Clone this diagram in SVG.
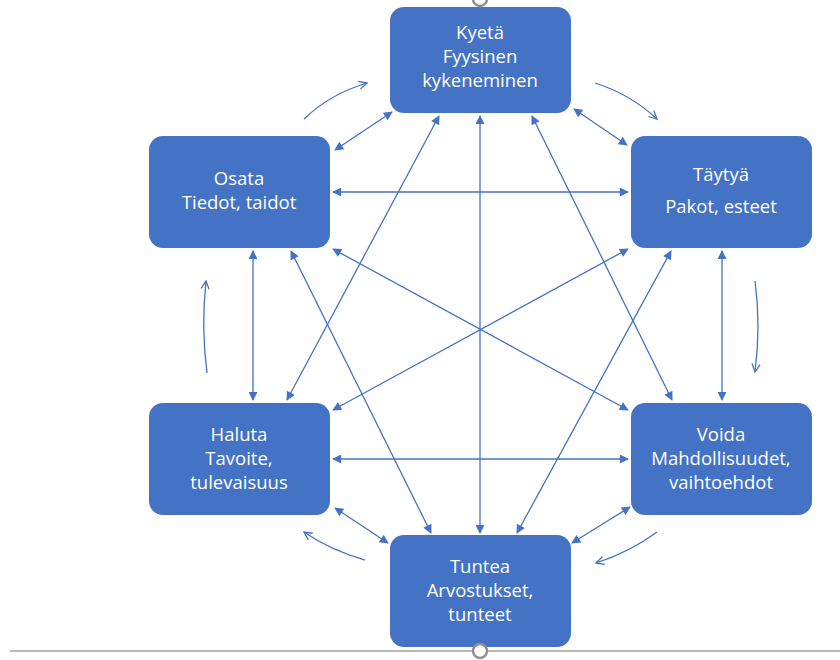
<svg xmlns="http://www.w3.org/2000/svg" width="840" height="660" viewBox="0 0 840 660">
<defs>
<marker id="ah" viewBox="0 0 10 10" refX="9" refY="5" markerWidth="11" markerHeight="9" markerUnits="userSpaceOnUse" orient="auto-start-reverse"><path d="M0,0 L10,5 L0,10 z" fill="#4472C4"/></marker>
<marker id="open" viewBox="0 0 10 10" refX="9" refY="5" markerWidth="10" markerHeight="10" markerUnits="userSpaceOnUse" orient="auto"><path d="M1,1 L9,5 L1,9" fill="none" stroke="#4472C4" stroke-width="1.3"/></marker>
</defs>
<style>
.node rect{fill:#4472C4;}
.node text{fill:#fff;font-family:"Open Sans","Liberation Sans",sans-serif;font-size:18.5px;text-anchor:middle;}
.conn line{stroke:#4472C4;stroke-width:1.3;marker-start:url(#ah);marker-end:url(#ah);}
.cyc path{stroke:#4472C4;stroke-width:1.3;fill:none;marker-end:url(#open);}
</style>
<rect width="840" height="660" fill="#fff"/>
<line x1="10" y1="651" x2="840" y2="651" stroke="#a0a0a0" stroke-width="1.3"/>
<g id="connectors" class="conn">
<line x1="392" y1="112" x2="335" y2="150"/>
<line x1="574" y1="109" x2="627" y2="145"/>
<line x1="333" y1="192" x2="628" y2="192"/>
<line x1="253" y1="251" x2="253" y2="400"/>
<line x1="722" y1="251" x2="722" y2="400"/>
<line x1="333" y1="459" x2="628" y2="459"/>
<line x1="335" y1="508" x2="388" y2="543"/>
<line x1="630" y1="507" x2="572" y2="543"/>
<line x1="480" y1="116" x2="480" y2="533"/>
<line x1="439" y1="116" x2="287" y2="400"/>
<line x1="532" y1="116" x2="672" y2="400"/>
<line x1="291" y1="251" x2="431" y2="533"/>
<line x1="671" y1="251" x2="517" y2="533"/>
<line x1="333" y1="249" x2="628" y2="410"/>
<line x1="628" y1="249" x2="333" y2="410"/>
</g>
<g id="cycle" class="cyc">
<path d="M304,119 Q330,94 367,83"/>
<path d="M595,83 Q630,94 657,119"/>
<path d="M755,281 Q761,326 755,372"/>
<path d="M207,373 Q201,327 206,281"/>
<path d="M365,560 Q330,550 304,532"/>
<path d="M657,532 Q630,552 596,563"/>
</g>
<g id="kyeta" class="node"><rect x="390" y="7" width="181" height="106" rx="14"/><text x="480" y="39">Kyetä</text><text x="480" y="63">Fyysinen</text><text x="480" y="87">kykeneminen</text></g>
<g id="osata" class="node"><rect x="149" y="136" width="181" height="112" rx="14"/><text x="239" y="185">Osata</text><text x="239" y="209">Tiedot, taidot</text></g>
<g id="taytya" class="node"><rect x="631" y="136" width="181" height="112" rx="14"/><text x="721" y="181">Täytyä</text><text x="721" y="213">Pakot, esteet</text></g>
<g id="haluta" class="node"><rect x="149" y="403" width="181" height="112" rx="14"/><text x="239" y="441">Haluta</text><text x="239" y="465">Tavoite,</text><text x="239" y="489">tulevaisuus</text></g>
<g id="voida" class="node"><rect x="631" y="403" width="181" height="112" rx="14"/><text x="721" y="441">Voida</text><text x="721" y="465">Mahdollisuudet,</text><text x="721" y="489">vaihtoehdot</text></g>
<g id="tuntea" class="node"><rect x="390" y="535" width="181" height="112" rx="14"/><text x="480" y="573">Tuntea</text><text x="480" y="597">Arvostukset,</text><text x="480" y="621">tunteet</text></g>
<circle cx="480" cy="-1" r="7" fill="#fff" stroke="#909090" stroke-width="2.5"/>
<circle cx="480" cy="651" r="7" fill="#fff" stroke="#909090" stroke-width="2.5"/>
</svg>
